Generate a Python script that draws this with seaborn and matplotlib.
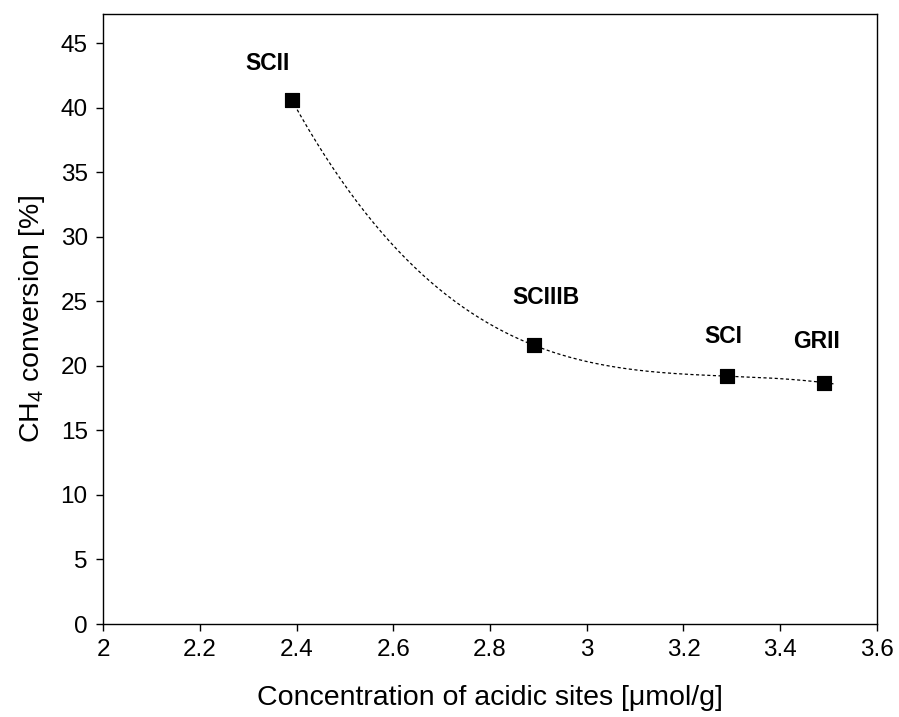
import numpy as np
import pandas as pd
import matplotlib
matplotlib.use("Agg")
import matplotlib.pyplot as plt
import seaborn as sns

samples = ["SCII", "SCIIIB", "SCI", "GRII"]
acid_sites = [2.39, 2.89, 3.29, 3.49]
ch4_conversion = [40.6, 21.6, 19.2, 18.7]
label_x = [2.34, 2.915, 3.282, 3.476]
label_y = [43.4, 25.3, 22.3, 21.9]
x_ticks = [2, 2.2, 2.4, 2.6, 2.8, 3, 3.2, 3.4, 3.6]
x_tick_labels = ["2", "2.2", "2.4", "2.6", "2.8", "3", "3.2", "3.4", "3.6"]
y_ticks = [0, 5, 10, 15, 20, 25, 30, 35, 40, 45]

sns.set_theme(style="ticks")
plt.rcParams["font.family"] = ["Liberation Sans", "DejaVu Sans"]
plt.rcParams["mathtext.fontset"] = "custom"
plt.rcParams["mathtext.rm"] = "Liberation Sans"
plt.rcParams["text.color"] = "black"
plt.rcParams["axes.labelcolor"] = "black"

df = pd.DataFrame({"x": acid_sites, "y": ch4_conversion, "sample": samples})

# polynomial trend line (3rd order) through the data
coef = np.polyfit(acid_sites, ch4_conversion, 3)
xs = np.linspace(min(acid_sites), 3.51, 200)
trend = pd.DataFrame({"x": xs, "y": np.polyval(coef, xs)})

fig = plt.figure(figsize=(8.99, 7.17), dpi=100)
ax = fig.add_axes([0.1146, 0.1297, 0.8609, 0.8508])

sns.lineplot(data=trend, x="x", y="y", ax=ax, color="black", lw=0.9,
             linestyle=(0, (2.5, 2.0)), zorder=2)
sns.scatterplot(data=df, x="x", y="y", ax=ax, marker="s", s=110,
                color="black", edgecolor="black", zorder=3)

for lx, ly, s in zip(label_x, label_y, samples):
    ax.text(lx, ly, s, ha="center", va="center", fontsize=16.5,
            fontweight="bold", color="black")

ax.set_xlim(2, 3.6)
ax.set_ylim(0, 47.25)
ax.set_xticks(x_ticks)
ax.set_xticklabels(x_tick_labels)
ax.set_yticks(y_ticks)
ax.tick_params(axis="both", labelsize=17.5, length=5, width=1, color="black",
               direction="out", pad=6, labelcolor="black")
for sp in ax.spines.values():
    sp.set_visible(True)
    sp.set_color("black")
    sp.set_linewidth(1.0)

ax.set_xlabel("Concentration of acidic sites [μmol/g]", fontsize=20.5, labelpad=17)
ax.set_ylabel("CH$_4$ conversion [%]", fontsize=20.5, labelpad=10)

fig.savefig("out.png", dpi=100)
